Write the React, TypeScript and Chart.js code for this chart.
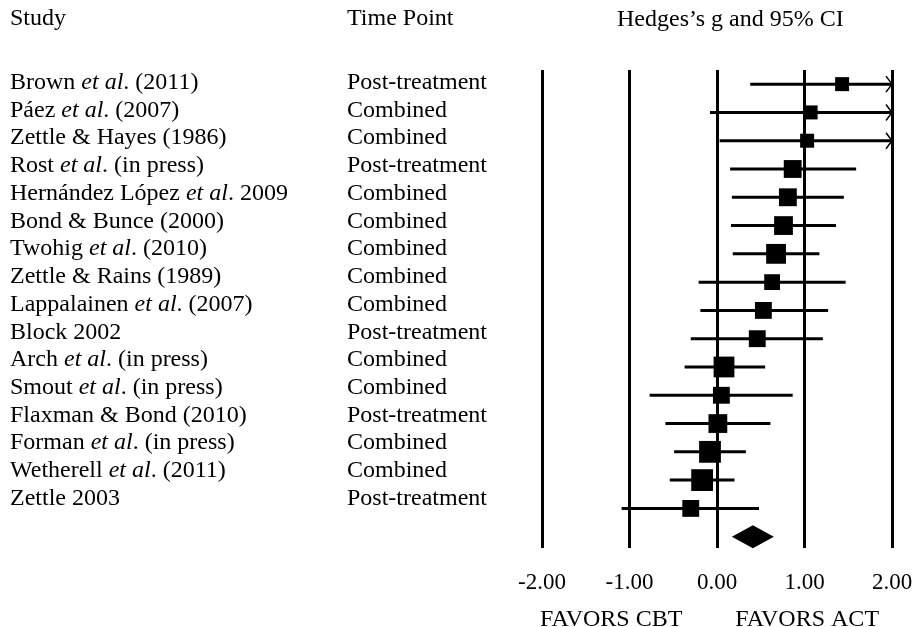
import React, { useEffect, useRef } from "react";
import { Chart, registerables } from "chart.js";

Chart.register(...registerables);

// ---- data ----
const studies = [
  "Brown _et al_. (2011)",
  "Páez _et al_. (2007)",
  "Zettle & Hayes (1986)",
  "Rost _et al_. (in press)",
  "Hernández López _et al_. 2009",
  "Bond & Bunce (2000)",
  "Twohig _et al_. (2010)",
  "Zettle & Rains (1989)",
  "Lappalainen _et al_. (2007)",
  "Block 2002",
  "Arch _et al_. (in press)",
  "Smout _et al_. (in press)",
  "Flaxman & Bond (2010)",
  "Forman _et al_. (in press)",
  "Wetherell _et al_. (2011)",
  "Zettle 2003",
];
const timePoints = [
  "Post-treatment",
  "Combined",
  "Combined",
  "Post-treatment",
  "Combined",
  "Combined",
  "Combined",
  "Combined",
  "Combined",
  "Post-treatment",
  "Combined",
  "Combined",
  "Post-treatment",
  "Combined",
  "Combined",
  "Post-treatment",
];
const effectSizes = [1.43, 1.07, 1.03, 0.865, 0.81, 0.76, 0.675, 0.63, 0.53, 0.46, 0.08, 0.05, 0.01, -0.08, -0.17, -0.3];
const lowerCI = [0.38, -0.08, 0.03, 0.15, 0.17, 0.16, 0.18, -0.21, -0.19, -0.3, -0.37, -0.77, -0.59, -0.49, -0.54, -1.09];
const upperCI = [2.48, 2.22, 2.03, 1.59, 1.45, 1.36, 1.17, 1.47, 1.27, 1.21, 0.55, 0.865, 0.61, 0.33, 0.2, 0.48];
const weights = [4.0, 4.0, 4.0, 6.5, 6.5, 7.2, 8.0, 5.1, 5.8, 5.8, 8.8, 5.8, 7.2, 9.7, 9.7, 5.8];
const summaryEffect = 0.41;
const summaryLower = 0.17;
const summaryUpper = 0.65;
const xTicks = [-2, -1, 0, 1, 2];
const headers = ["Study", "Time Point", "Hedges’s g and 95% CI"];
const directionLabels = ["FAVORS CBT", "FAVORS ACT"];
const directionAt = [-1.21, 1.03];

const SERIF = '"Liberation Serif", "Times New Roman", Times, serif';
const FS = 24;
const TICK_FS = 23;

function drawRich(ctx: CanvasRenderingContext2D, text: string, x: number, y: number) {
  const parts = text.split("_");
  let cx = x;
  parts.forEach((p, k) => {
    ctx.font = `${k % 2 ? "italic " : ""}${FS}px ${SERIF}`;
    ctx.fillText(p, cx, y);
    cx += ctx.measureText(p).width;
  });
}

const forestPlugin = {
  id: "forest",
  beforeDatasetsDraw(chart: any) {
    const { ctx, scales } = chart;
    const xs = scales.x;
    const ys = scales.y;
    ctx.save();
    ctx.strokeStyle = "#000";
    ctx.lineWidth = 3;
    ctx.lineCap = "butt";
    effectSizes.forEach((_, i) => {
      const lo = Math.max(lowerCI[i], xs.min);
      const hi = Math.min(upperCI[i], xs.max);
      const y = ys.getPixelForValue(i);
      ctx.beginPath();
      ctx.moveTo(xs.getPixelForValue(lo), y);
      ctx.lineTo(xs.getPixelForValue(hi), y);
      ctx.stroke();
      if (upperCI[i] > xs.max) {
        const ax = xs.getPixelForValue(xs.max);
        ctx.save();
        ctx.lineWidth = 1.5;
        ctx.beginPath();
        ctx.moveTo(ax - 6, y - 8);
        ctx.lineTo(ax, y);
        ctx.lineTo(ax - 6, y + 8);
        ctx.stroke();
        ctx.restore();
      }
    });
    ctx.restore();
  },
  afterDraw(chart: any) {
    const { ctx, scales } = chart;
    const xs = scales.x;
    const ys = scales.y;
    ctx.save();
    ctx.fillStyle = "#000";
    ctx.textBaseline = "alphabetic";
    ctx.textAlign = "left";
    ctx.font = `${FS}px ${SERIF}`;
    // headers
    ctx.fillText(headers[0], 10, 25);
    ctx.fillText(headers[1], 347, 25);
    ctx.fillText(headers[2], 617, 26);
    // rows
    studies.forEach((s, i) => {
      const by = 89 + i * 27.73;
      drawRich(ctx, s, 10, by);
      ctx.font = `${FS}px ${SERIF}`;
      ctx.fillText(timePoints[i], 347, by);
    });
    // summary diamond
    const dy = ys.getPixelForValue(studies.length);
    ctx.beginPath();
    ctx.moveTo(xs.getPixelForValue(summaryLower), dy);
    ctx.lineTo(xs.getPixelForValue(summaryEffect), dy - 11.5);
    ctx.lineTo(xs.getPixelForValue(summaryUpper), dy);
    ctx.lineTo(xs.getPixelForValue(summaryEffect), dy + 11.5);
    ctx.closePath();
    ctx.fill();
    // direction labels
    ctx.font = `${FS}px ${SERIF}`;
    ctx.textAlign = "center";
    directionLabels.forEach((t, k) => {
      ctx.fillText(t, xs.getPixelForValue(directionAt[k]), 626);
    });
    ctx.restore();
  },
};

export default function App() {
  const ref = useRef<HTMLCanvasElement | null>(null);
  useEffect(() => {
    if (!ref.current) return;
    const chart = new Chart(ref.current, {
      type: "scatter",
      data: {
        datasets: [
          {
            data: effectSizes.map((v, i) => ({ x: v, y: i })),
            pointStyle: "rect",
            pointRadius: weights.map((w) => (7 * Math.sqrt(w)) / Math.SQRT2),
            pointHoverRadius: weights.map((w) => (7 * Math.sqrt(w)) / Math.SQRT2),
            pointBackgroundColor: "#000",
            pointBorderWidth: 0,
            borderWidth: 0,
            showLine: false,
          } as any,
        ],
      },
      options: {
        responsive: false,
        animation: false,
        events: [],
        layout: { padding: { left: 542, right: 28, top: 70, bottom: 0 } },
        plugins: { legend: { display: false }, tooltip: { enabled: false } },
        scales: {
          x: {
            type: "linear",
            min: -2,
            max: 2,
            afterBuildTicks: (scale: any) => {
              scale.ticks = xTicks.map((v) => ({ value: v }));
            },
            afterFit: (scale: any) => {
              scale.height = 79;
              scale.paddingLeft = 0;
              scale.paddingRight = 0;
            },
            grid: { color: "#000", lineWidth: 3, drawTicks: false },
            border: { display: false },
            ticks: {
              padding: 21,
              maxRotation: 0,
              autoSkip: false,
              color: "#000",
              font: { family: SERIF, size: TICK_FS },
              callback: (v: any) => Number(v).toFixed(2),
            },
          },
          y: {
            type: "linear",
            display: false,
            reverse: true,
            min: -0.5,
            max: 16.4,
          },
        },
      },
      plugins: [forestPlugin],
    });
    return () => chart.destroy();
  }, []);
  return (
    <div style={{ position: "fixed", left: 0, top: 0, width: 920, height: 627, background: "#fff" }}>
      <canvas ref={ref} width={920} height={627} style={{ display: "block" }} />
    </div>
  );
}
